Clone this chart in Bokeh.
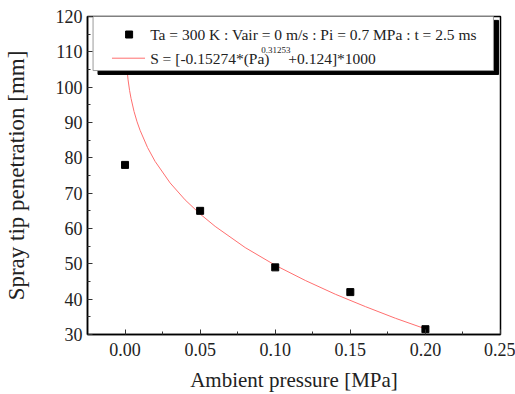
from bokeh.plotting import figure
from bokeh.models import FixedTicker, Label, NumeralTickFormatter, Range1d
from bokeh.embed import file_html
from bokeh.resources import INLINE

# measured data
pressure = [0.00, 0.05, 0.10, 0.15, 0.20]
penetration = [78.0, 65.0, 49.0, 42.0, 31.5]

# fit curve S = [-0.15274*(Pa)^0.31253 + 0.124]*1000 (sampled values)
fit_p = [0.0005, 0.001, 0.002, 0.003, 0.004, 0.006, 0.008, 0.01, 0.015, 0.02,
         0.03, 0.04, 0.05, 0.06, 0.08, 0.10, 0.12, 0.14, 0.16, 0.18, 0.20]
fit_s = [109.8, 106.4, 102.1, 99.1, 96.8, 93.1, 90.2, 87.8, 82.9, 79.0,
         72.9, 68.1, 64.1, 60.6, 54.6, 49.6, 45.3, 41.4, 37.9, 34.6, 31.6]

x_ticks = [0.00, 0.05, 0.10, 0.15, 0.20, 0.25]
x_minor = [-0.025, 0.025, 0.075, 0.125, 0.175, 0.225]
y_ticks = [30, 40, 50, 60, 70, 80, 90, 100, 110, 120]
y_minor = [35, 45, 55, 65, 75, 85, 95, 105, 115]

legend_text1 = "Ta = 300 K : Vair = 0 m/s : Pi = 0.7 MPa : t = 2.5 ms"
legend_text2a = "S = [-0.15274*(Pa)"
legend_sup = "0.31253"
legend_text2b = "+0.124]*1000"

FONT = "Liberation Serif"

p = figure(width=515, height=394, output_backend="svg", toolbar_location=None,
           x_range=Range1d(-0.025, 0.25), y_range=Range1d(30, 120))
p.min_border_left = 87
p.min_border_right = 15
p.min_border_top = 16
p.min_border_bottom = 60
p.grid.visible = False
p.outline_line_color = "black"
p.outline_line_width = 1.5
p.background_fill_color = "white"
p.border_fill_color = "white"

for ax in (p.xaxis[0], p.yaxis[0]):
    ax.axis_line_color = "black"
    ax.axis_line_width = 1.5
    ax.major_tick_in = 5
    ax.major_tick_out = 0
    ax.minor_tick_in = 3
    ax.minor_tick_out = 0
    ax.major_tick_line_color = "#333333"
    ax.minor_tick_line_color = "#333333"
    ax.major_label_text_font = FONT
    ax.major_label_text_font_size = "18px"
    ax.major_label_text_color = "#222222"
    ax.axis_label_text_font = FONT
    ax.axis_label_text_font_style = "normal"
    ax.axis_label_text_color = "#222222"

p.xaxis[0].ticker = FixedTicker(ticks=x_ticks, minor_ticks=x_minor)
p.yaxis[0].ticker = FixedTicker(ticks=y_ticks, minor_ticks=y_minor)
p.xaxis[0].formatter = NumeralTickFormatter(format="0.00")
p.xaxis[0].axis_label = "Ambient pressure [MPa]"
p.yaxis[0].axis_label = "Spray tip penetration [mm]"
p.xaxis[0].axis_label_text_font_size = "21px"
p.yaxis[0].axis_label_text_font_size = "23px"
p.xaxis[0].major_label_standoff = 8
p.yaxis[0].major_label_standoff = 5
p.xaxis[0].axis_label_standoff = 9
p.yaxis[0].axis_label_standoff = 24

# fit curve and data
p.line(fit_p, fit_s, line_color="#ff6f6f", line_width=1)
p.scatter(pressure, penetration, marker="square", size=7, fill_color="black", line_color="black")

# legend box with shadow
p.quad(left=[-0.018], right=[0.2487], top=[118.9], bottom=[103.6],
       fill_color="black", line_color="black")
p.quad(left=[-0.0213], right=[0.2453], top=[120.5], bottom=[104.7],
       fill_color="white", line_color="#999999", line_width=1)
p.scatter([0.0027], [114.9], marker="square", size=7, fill_color="black", line_color="black")
p.line([-0.0087, 0.0133], [108.2, 108.2], line_color="#ff6f6f", line_width=1)

for txt, x, y, size in [(legend_text1, 0.0167, 114.9, "15.5px"),
                        (legend_text2a, 0.0167, 108.1, "15.5px"),
                        (legend_sup, 0.0907, 110.4, "9px"),
                        (legend_text2b, 0.1087, 108.1, "15.5px")]:
    p.add_layout(Label(x=x, y=y, text=txt, text_font=FONT, text_font_size=size,
                       text_baseline="middle", text_align="left", text_color="#222222"))

open("out.html", "w").write(file_html(p, INLINE))
